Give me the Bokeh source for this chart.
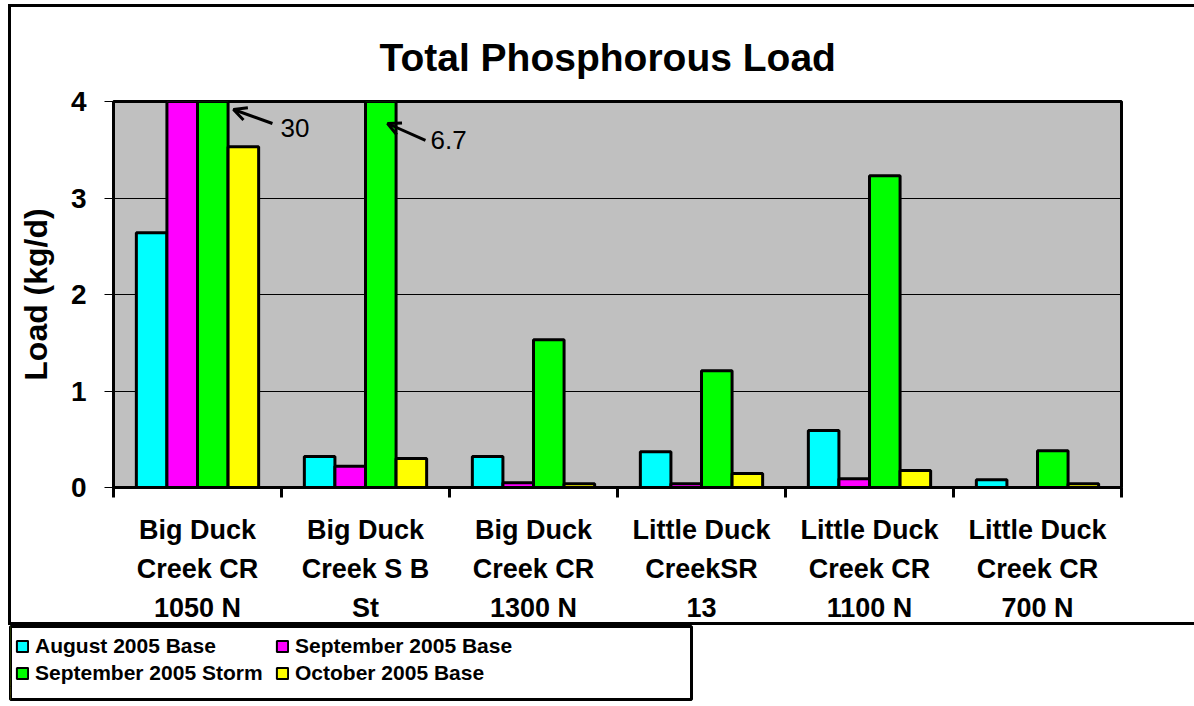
from bokeh.plotting import figure
from bokeh.layouts import column, row
from bokeh.models import (Range1d, FixedTicker, Legend, LegendItem, Arrow, OpenHead, Label)
from bokeh.embed import file_html
from bokeh.resources import INLINE

# ---------------- data ----------------
sites = ["Big Duck\nCreek CR\n1050 N", "Big Duck\nCreek S B\nSt", "Big Duck\nCreek CR\n1300 N",
         "Little Duck\nCreekSR\n13", "Little Duck\nCreek CR\n1100 N", "Little Duck\nCreek CR\n700 N"]
aug_base = [2.64, 0.32, 0.32, 0.37, 0.59, 0.08]
sep_base = [4.3, 0.22, 0.05, 0.04, 0.09, 0.0]
sep_storm = [30.0, 6.7, 1.53, 1.21, 3.23, 0.38]
oct_base = [3.53, 0.30, 0.04, 0.145, 0.175, 0.04]
series_names = ["August 2005 Base", "September 2005 Base", "September 2005 Storm", "October 2005 Base"]
series_values = [aug_base, sep_base, sep_storm, oct_base]
colors = ["#00FFFF", "#FF00FF", "#00FF00", "#FFFF00"]
y_ticks = [0, 1, 2, 3, 4]
callouts = [("30", 0), ("6.7", 1)]  # label text, site index of the clipped Storm bar

FONT = "Liberation Sans"

p = figure(width=1194, height=625, output_backend="svg", toolbar_location=None,
           x_range=Range1d(-0.5, len(sites) - 0.5), y_range=Range1d(0, 4),
           min_border_left=113, min_border_right=73, min_border_top=101, min_border_bottom=138)

p.background_fill_color = "#C0C0C0"
p.border_fill_alpha = 0
p.outline_line_color = "black"
p.outline_line_width = 3
# outer chart frame (left / top / bottom rules) drawn behind the transparent canvas border
p.styles = {
    "background-color": "white",
    "box-shadow": ("inset 8px 0 0 white, inset 0 4px 0 white, "
                   "inset 11px 0 0 black, inset 0 7px 0 black, inset 0 -3px 0 black"),
}

# title
p.title.text = "Total Phosphorous Load"
p.title.text_font = FONT
p.title.text_font_size = "39px"
p.title.text_font_style = "bold"
p.title.text_color = "black"
p.title.align = "left"
p.title.offset = 266
p.title.standoff = 46

# grid
p.xgrid.grid_line_color = None
p.ygrid.ticker = FixedTicker(ticks=y_ticks)
p.ygrid.grid_line_color = "black"
p.ygrid.grid_line_width = 1

# y axis
ya = p.yaxis[0]
ya.ticker = FixedTicker(ticks=y_ticks)
ya.axis_label = "Load (kg/d)"
ya.axis_label_text_font = FONT
ya.axis_label_text_font_size = "32px"
ya.axis_label_text_font_style = "bold"
ya.axis_label_text_color = "black"
ya.axis_label_standoff = 14
ya.major_label_text_font = FONT
ya.major_label_text_font_size = "28px"
ya.major_label_text_font_style = "bold"
ya.major_label_text_color = "black"
ya.major_label_standoff = 18
ya.major_tick_in = 0
ya.major_tick_out = 9
ya.major_tick_line_width = 1
ya.minor_tick_line_color = None
ya.axis_line_color = "black"
ya.axis_line_width = 3

# x axis: labels at group centres, tick marks at group boundaries
xa = p.xaxis[0]
centres = list(range(len(sites)))
bounds = [i - 0.5 for i in range(len(sites) + 1)]
xa.ticker = FixedTicker(ticks=centres, minor_ticks=bounds)
xa.major_label_overrides = {i: s for i, s in enumerate(sites)}
xa.major_label_text_font = FONT
xa.major_label_text_font_size = "27px"
xa.major_label_text_font_style = "bold"
xa.major_label_text_color = "black"
xa.major_label_text_line_height = 1.3
xa.major_label_standoff = 17
xa.major_tick_line_color = None
xa.minor_tick_in = 0
xa.minor_tick_out = 10
xa.minor_tick_line_width = 3
xa.minor_tick_line_color = "black"
xa.axis_line_color = "black"
xa.axis_line_width = 3

# bars
w = 0.182
offsets = [-1.5 * w, -0.5 * w, 0.5 * w, 1.5 * w]
for name, vals, col, off in zip(series_names, series_values, colors, offsets):
    p.vbar(x=[c + off for c in centres], top=vals, width=w, bottom=0,
           fill_color=col, line_color="black", line_width=3)

# call-outs for bars beyond the axis maximum
arrow_geom = {0: (0.446, 3.772, 0.214, 3.917, 0.494, 3.73),
              1: (1.357, 3.596, 1.131, 3.772, 1.387, 3.606)}
for txt, idx in callouts:
    xs, ys, xe, ye, xt, yt = arrow_geom[idx]
    p.add_layout(Arrow(end=OpenHead(size=13, line_width=3, line_color="black"),
                       x_start=xs, y_start=ys, x_end=xe, y_end=ye,
                       line_width=3, line_color="black"))
    p.add_layout(Label(x=xt, y=yt, text=txt, text_font=FONT, text_font_size="26px",
                       text_baseline="middle", text_align="left", text_color="black"))

# ---------------- legend panel (boxed, below the chart frame) ----------------
# the series are re-used here only as legend proxies; the x range keeps them out of view
lf = figure(width=694, height=78, output_backend="svg", toolbar_location=None,
            x_range=Range1d(100, 101), y_range=Range1d(0, 1),
            x_axis_type=None, y_axis_type=None,
            min_border_left=10, min_border_right=3, min_border_top=1, min_border_bottom=4)
lf.xgrid.visible = False
lf.ygrid.visible = False
lf.background_fill_color = "white"
lf.border_fill_color = "white"
lf.outline_line_color = "black"
lf.outline_line_width = 3

items = []
for name, vals, col, off in zip(series_names, series_values, colors, offsets):
    r = lf.vbar(x=[c + off for c in centres], top=vals, width=w, bottom=0,
                fill_color=col, line_color="black", line_width=2)
    items.append(LegendItem(label=name, renderers=[r]))

legend = Legend(items=items, orientation="horizontal", ncols=2,
                location=(5, 13), border_line_alpha=0, background_fill_alpha=0,
                label_text_font=FONT, label_text_font_size="21px", label_text_font_style="bold",
                label_text_color="black",
                glyph_width=14, glyph_height=14, label_standoff=6, spacing=0,
                padding=0, margin=0, label_height=27, label_width=240)
lf.add_layout(legend, "center")

layout = column(p, row(lf), spacing=0)
open("out.html", "w").write(file_html(layout, INLINE))
